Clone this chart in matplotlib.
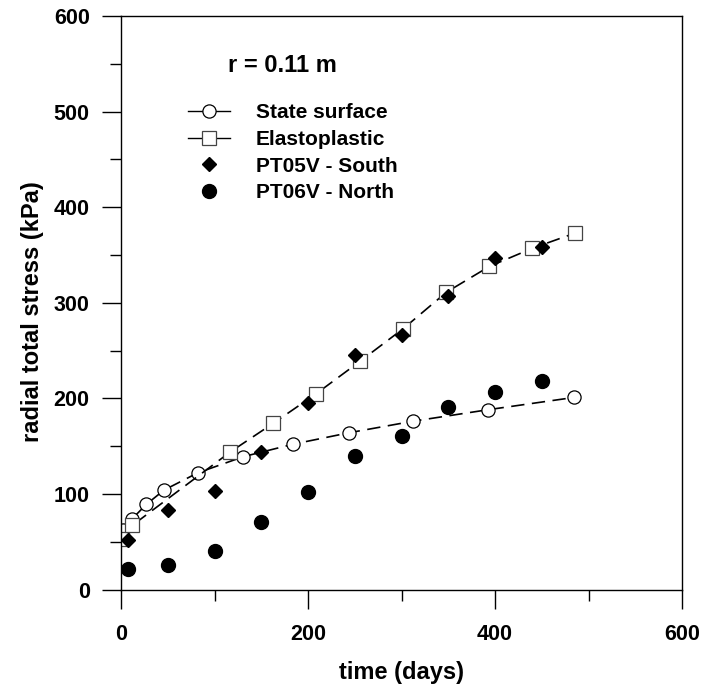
import matplotlib
matplotlib.use("Agg")
import matplotlib.pyplot as plt
from matplotlib.lines import Line2D
from matplotlib.ticker import MultipleLocator

plt.rcParams['font.family'] = ['Liberation Sans', 'DejaVu Sans']

# State surface model (open circles)
state_x = [2, 12, 27, 46, 82, 131, 184, 244, 312, 392, 485]
state_y = [62, 74, 89, 104, 122, 139, 152, 164, 176, 188, 201]

# Elastoplastic model (open squares)
elasto_x = [1, 12, 117, 163, 209, 256, 302, 348, 394, 440, 486]
elasto_y = [53, 67, 144, 174, 205, 239, 273, 311, 338, 357, 373]

# PT05V - South (filled diamonds)
south_x = [7, 50, 100, 150, 200, 250, 300, 350, 400, 450]
south_y = [52, 83, 103, 144, 195, 245, 266, 307, 347, 358]

# PT06V - North (filled circles)
north_x = [7, 50, 100, 150, 200, 250, 300, 350, 400, 450]
north_y = [21, 26, 40, 71, 102, 140, 161, 191, 207, 218]

fig = plt.figure(figsize=(7.05, 6.91), dpi=100)
ax = fig.add_axes([121/705, 1 - 589.5/691, (682 - 121)/705, (589.5 - 16)/691])

dash = (0, (8, 4.5))
ax.plot(state_x, state_y, color='black', lw=1.2, linestyle=dash,
        marker='o', ms=9.5, mfc='white', mec='black', mew=0.9)
ax.plot(elasto_x, elasto_y, color='black', lw=1.2, linestyle=dash,
        marker='s', ms=9.5, mfc='white', mec='#444444', mew=0.9)
ax.plot(south_x, south_y, linestyle='none', marker='D', ms=7.5,
        color='black')
ax.plot(north_x, north_y, linestyle='none', marker='o', ms=10,
        color='black')

ax.set_xlim(0, 600)
ax.set_ylim(0, 600)
ax.xaxis.set_major_locator(MultipleLocator(200))
ax.xaxis.set_minor_locator(MultipleLocator(100))
ax.yaxis.set_major_locator(MultipleLocator(100))
ax.yaxis.set_minor_locator(MultipleLocator(50))
ax.tick_params(which='major', direction='out', length=13.5, width=1.0,
               labelsize=15.5)
ax.tick_params(axis='x', which='major', pad=11)
ax.tick_params(axis='y', which='major', pad=9)
ax.tick_params(which='minor', direction='out', length=8, width=1.0)
for lab in ax.get_xticklabels() + ax.get_yticklabels():
    lab.set_fontweight('bold')
for s in ax.spines.values():
    s.set_linewidth(1.0)

ax.set_xlabel('time (days)', fontsize=17, fontweight='bold', labelpad=12)
ax.set_ylabel('radial total stress (kPa)', fontsize=17, fontweight='bold',
              labelpad=7)
ax.yaxis.label.set_y(0.484)

ax.text(0.19, 0.913, 'r = 0.11 m', transform=ax.transAxes, fontsize=17,
        fontweight='bold', va='center', ha='left')

handles = [
    Line2D([], [], color='black', lw=1.0, marker='o', ms=9.5, mfc='white',
           mec='black', mew=0.9),
    Line2D([], [], color='black', lw=1.0, marker='s', ms=9.5, mfc='white',
           mec='#444444', mew=0.9),
    Line2D([], [], linestyle='none', marker='D', ms=7.5, color='black'),
    Line2D([], [], linestyle='none', marker='o', ms=10, color='black'),
]
labels = ['State surface', 'Elastoplastic', 'PT05V - South', 'PT06V - North']
leg = ax.legend(handles, labels, loc='upper left',
                bbox_to_anchor=(0.101, 0.866), frameon=False,
                prop={'weight': 'bold', 'size': 15}, handlelength=2.0,
                handletextpad=1.25, labelspacing=0.37, borderpad=0)

fig.savefig('out.png', dpi=100)
